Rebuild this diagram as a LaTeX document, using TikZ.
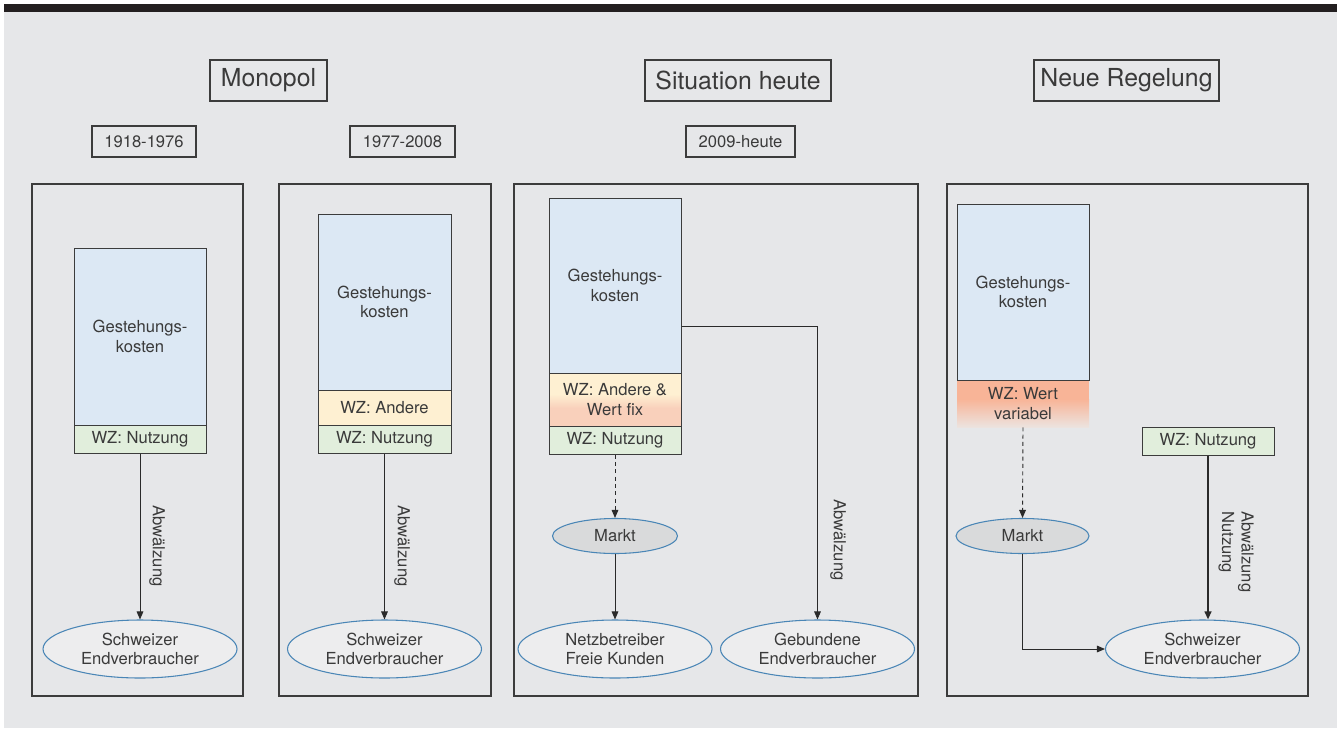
\documentclass[tikz,border=0pt]{standalone}
\usepackage{fontspec}
\setmainfont{TeX Gyre Heros}
\usetikzlibrary{arrows.meta,shapes.geometric,calc}
\definecolor{bg}{HTML}{E6E7E9}
\definecolor{barc}{HTML}{231F20}
\definecolor{txt}{HTML}{3A3A3A}
\definecolor{boxc}{HTML}{3C3C3C}
\definecolor{costblue}{HTML}{DCE8F4}
\definecolor{wzgreen}{HTML}{E1EEDC}
\definecolor{wzyellow}{HTML}{FEF0D2}
\definecolor{wzsalmon}{HTML}{F9D0BB}
\definecolor{salmonB}{HTML}{F8B497}
\definecolor{fadebot}{HTML}{ECE3DF}
\definecolor{ellc}{HTML}{4A86B6}
\definecolor{ellfill}{HTML}{EDEDEE}
\definecolor{marktfill}{HTML}{D9DADB}
\definecolor{linec}{HTML}{2A2A2A}
\begin{document}
\begin{tikzpicture}[x=0.75pt,y=-0.75pt,
  font=\fontsize{12.45}{14.6}\selectfont, text=txt,
  sz/.style 2 args={minimum width=#1, minimum height=#2},
  panel/.style={draw=boxc, line width=0.9pt, inner sep=0pt},
  rect/.style={draw=boxc, line width=0.75pt, inner sep=0pt, align=center},
  costbox/.style={rect, fill=costblue},
  greenbox/.style={rect, fill=wzgreen},
  yellowbox/.style={rect, fill=wzyellow},
  hdr/.style={draw=boxc, line width=0.8pt, inner sep=0pt, font=\fontsize{18.6}{22}\selectfont},
  datebox/.style={draw=boxc, line width=0.8pt, inner sep=0pt},
  consumer/.style={ellipse, draw=ellc, line width=0.8pt, fill=ellfill, minimum width=145.5pt, minimum height=43.5pt, inner sep=0pt, align=center},
  markt/.style={ellipse, draw=ellc, line width=0.8pt, fill=marktfill, minimum height=26.25pt, inner sep=0pt},
  arr/.style={draw=linec, line width=0.7pt, -{Triangle[length=6pt,width=5pt]}},
  dasharr/.style={arr, dash pattern=on 3pt off 2.5pt},
  thickarr/.style={arr, line width=1.4pt},
  rotlabel/.style={rotate=-90, inner sep=0pt, align=left}
]
\useasboundingbox (0,0) rectangle (1337,728);
\fill[white] (0,0) rectangle (1337,728);
\fill[bg] (4,4) rectangle (1337,728);
\fill[barc] (4,4) rectangle (1337,12);

% headers
\node[hdr, sz={87.75pt}{30.75pt}] (hm) at (268.5,80.5) {Monopol};
\node[hdr, sz={139.5pt}{30.75pt}] (hs) at (738,80.5) {Situation heute};
\node[hdr, sz={138.75pt}{30.75pt}] (hn) at (1126.5,80.5) {Neue Regelung};
\node[datebox, sz={78pt}{23.25pt}] (d1) at (144,141.5) {1918-1976};
\node[datebox, sz={78.75pt}{23.25pt}] (d2) at (402.5,141.5) {1977-2008};
\node[datebox, sz={81.75pt}{23.25pt}] (d3) at (740.5,141.5) {2009-heute};

% panels
\node[panel, sz={158.25pt}{384pt}] (p1) at (137.5,440) {};
\node[panel, sz={159pt}{384pt}] (p2) at (385,440) {};
\node[panel, sz={303pt}{384pt}] (p3) at (716,440) {};
\node[panel, sz={270.75pt}{384pt}] (p4) at (1127.5,440) {};

% panel 1
\node[costbox, sz={99pt}{132.75pt}] (b1) at (140,336.5) {Gestehungs-\\kosten};
\node[greenbox, sz={99pt}{21pt}] (n1) at (140,439) {WZ: Nutzung};
\node[consumer] (e1) at (140,649) {Schweizer\\Endverbraucher};
\draw[arr] (n1.south) -- (e1.north);
\node[rotlabel] (l1) at (157,546) {Abwälzung};

% panel 2
\node[costbox, sz={99.75pt}{132pt}] (b2) at (384.5,302) {Gestehungs-\\kosten};
\node[yellowbox, sz={99.75pt}{26.25pt}] (a2) at (384.5,407.5) {WZ: Andere};
\node[greenbox, sz={99.75pt}{21pt}] (n2) at (384.5,439) {WZ: Nutzung};
\node[consumer] (e2) at (384.5,649) {Schweizer\\Endverbraucher};
\draw[arr] (n2.south) -- (e2.north);
\node[rotlabel] (l2) at (402,546) {Abwälzung};

% panel 3
\fill[wzyellow] (549,373) rectangle (681,394);
\shade[top color=wzyellow, bottom color=wzsalmon] (549,394) rectangle (681,408);
\fill[wzsalmon] (549,408) rectangle (681,426);
\node[costbox, sz={99pt}{131.25pt}] (b3) at (615,285.5) {Gestehungs-\\kosten};
\node[rect, sz={99pt}{39.75pt}] (w3) at (615,399.5) {WZ: Andere \&\\Wert fix};
\node[greenbox, sz={99pt}{21pt}] (n3) at (615,440) {WZ: Nutzung};
\node[markt, minimum width=93.75pt] (m3) at (615,536) {Markt};
\node[consumer] (e3a) at (615,649) {Netzbetreiber\\Freie Kunden};
\node[consumer] (e3b) at (817.5,649) {Gebundene\\Endverbraucher};
\draw[dasharr] (n3.south) -- (m3.north);
\draw[arr] (m3.south) -- (e3a.north);
\draw[arr] ([yshift=-30.4pt]b3.east) -| (e3b.north);
\node[rotlabel] (l3) at (838,540) {Abwälzung};

% panel 4
\fill[salmonB] (957,380) rectangle (1089,399);
\shade[top color=salmonB, bottom color=fadebot] (957,399) rectangle (1089,427);
\node[costbox, sz={99pt}{132pt}] (b4) at (1023,292) {Gestehungs-\\kosten};
\node[inner sep=0pt, align=center, sz={99pt}{35.25pt}] (w4) at (1023,403.5) {WZ: Wert\\variabel};
\node[greenbox, sz={99pt}{21pt}] (n4) at (1208,441) {WZ: Nutzung};
\node[markt, minimum width=99.75pt] (m4) at (1022.5,536) {Markt};
\node[consumer] (e4) at (1202.5,649) {Schweizer\\Endverbraucher};
\draw[dasharr] (w4.south) -- (m4.north);
\draw[arr] (m4.south) |- (e4.west);
\draw[thickarr] (n4.south) -- (n4.south |- e4.north);
\node[rotlabel, anchor=north west] (l4) at (1254,511) {Abwälzung\\Nutzung};
\end{tikzpicture}
\end{document}
